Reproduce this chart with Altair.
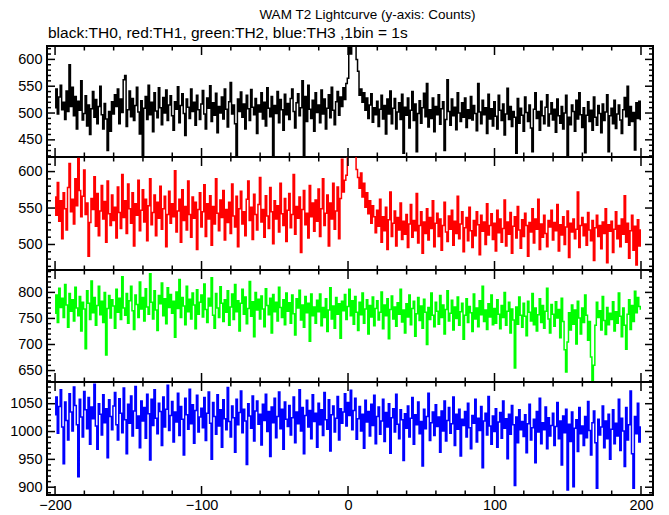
import altair as alt
import pandas as pd

FONT = "Liberation Sans"
X_START = -200
X_DOMAIN = [-205.5, 208.2]
X_LABELS = [-200, -100, 0, 100, 200]

TITLE = "WAM T2 Lightcurve (y-axis: Counts)"
SUBTITLE = "black:TH0, red:TH1, green:TH2, blue:TH3 ,1bin = 1s"

th0 = [
    510, 545, 498, 530, 552, 506, 520, 488, 541, 503, 590, 512, 548, 495, 531, 470, 522, 505, 560, 487,
    499, 532, 476, 515, 460, 508, 540, 492, 525, 480, 512, 550, 497, 470, 518, 489, 430, 503, 466, 521,
    498, 534, 512, 545, 480, 526, 501, 562, 570, 475, 506, 541, 493, 527, 486, 514, 548, 502, 461, 523,
    418, 509, 531, 488, 552, 497, 520, 465, 538, 504, 491, 547, 510, 478, 529, 500, 543, 486, 515, 532,
    495, 468, 521, 507, 549, 482, 514, 536, 499, 458, 526, 511, 490, 545, 503, 520, 477, 533, 506, 488,
    517, 542, 498, 470, 528, 509, 551, 484, 519, 496, 537, 463, 512, 500, 530, 489, 545, 507, 474, 521,
    557, 498, 515, 480, 421, 526, 503, 539, 492, 517, 470, 533, 508, 486, 544, 511, 497, 527, 462, 515,
    502, 538, 489, 520, 476, 547, 509, 493, 531, 421, 514, 499, 540, 482, 525, 506, 468, 535, 497, 518,
    488, 527, 545, 503, 472, 519, 536, 495, 510, 560, 421, 531, 484, 552, 507, 490, 524, 466, 538, 501,
    515, 482, 543, 498, 526, 470, 509, 534, 491, 548, 505, 478, 521, 540, 496, 530, 512, 547, 525, 555,
    565, 640, 610, 650, 660, 645, 600, 578, 533, 545, 520, 538, 505, 528, 490, 515, 536, 483, 510, 497,
    522, 475, 507, 533, 489, 514, 461, 526, 498, 541, 480, 509, 527, 470, 502, 519, 488, 535, 425, 511,
    496, 528, 472, 505, 540, 486, 517, 428, 499, 523, 481, 510, 537, 493, 555, 474, 506, 490, 528, 465,
    512, 497, 534, 479, 508, 521, 430, 488, 562, 503, 477, 526, 495, 511, 469, 538, 500, 484, 519, 492,
    528, 473, 506, 490, 531, 487, 514, 499, 467, 555, 502, 480, 524, 497, 510, 462, 535, 489, 508, 476,
    521, 494, 470, 533, 505, 486, 517, 459, 498, 546, 488, 512, 475, 503, 492, 425, 527, 481, 509, 496,
    466, 530, 501, 484, 515, 472, 428, 507, 538, 490, 503, 468, 522, 495, 480, 511, 534, 476, 498, 519,
    487, 507, 464, 526, 495, 481, 512, 470, 500, 533, 418, 492, 478, 515, 503, 466, 524, 489, 538, 497,
    473, 510, 426, 496, 521, 484, 505, 468, 530, 492, 477, 514, 499, 463, 517, 486, 502, 534, 428, 495,
    509, 480, 524, 471, 498, 515, 487, 462, 506, 529, 493, 550, 477, 512, 484, 501, 431, 519, 490, 522,
    488,
]

th1 = [
    565, 540, 585, 532, 560, 508, 571, 549, 520, 578, 611, 545, 562, 528, 590, 553, 618, 574, 538, 566,
    602, 541, 557, 484, 530, 563, 548, 593, 525, 570, 512, 546, 581, 535, 559, 503, 587, 542, 526, 568,
    533, 551, 509, 579, 544, 522, 596, 537, 560, 515, 583, 549, 529, 571, 498, 556, 540, 588, 519, 547,
    575, 531, 562, 505, 553, 590, 527, 544, 568, 512, 558, 536, 580, 521, 549, 566, 497, 541, 573, 529,
    556, 538, 601, 517, 546, 562, 503, 575, 533, 552, 520, 587, 541, 510, 565, 536, 558, 493, 548, 571,
    524, 545, 582, 511, 556, 535, 567, 499, 552, 528, 590, 543, 519, 561, 537, 574, 506, 548, 530, 558,
    515, 583, 539, 524, 566, 497, 549, 573, 528, 545, 512, 562, 587, 533, 551, 507, 569, 541, 520, 555,
    592, 531, 548, 510, 567, 539, 522, 578, 545, 501, 560, 535, 553, 517, 584, 542, 526, 563, 504, 547,
    570, 523, 541, 596, 514, 552, 536, 565, 489, 548, 574, 527, 543, 509, 581, 538, 557, 518, 561, 532,
    576, 511, 549, 590, 526, 543, 568, 498, 557, 535, 584, 521, 546, 579, 508, 563, 617, 572, 588, 595,
    635, 650, 628, 655, 640, 625, 603, 592, 577, 598, 565, 584, 551, 571, 542, 560, 529, 553, 538, 516,
    547, 525, 562, 503, 538, 519, 551, 493, 534, 572, 511, 529, 546, 498, 537, 520, 557, 507, 532, 514,
    541, 496, 528, 555, 510, 533, 519, 570, 502, 526, 545, 488, 531, 515, 549, 506, 537, 522, 560, 497,
    529, 543, 511, 535, 492, 526, 558, 517, 504, 539, 521, 547, 499, 532, 515, 566, 508, 528, 545, 490,
    523, 537, 505, 551, 519, 496, 533, 512, 545, 527, 486, 540, 518, 531, 500, 556, 513, 526, 542, 507,
    529, 491, 547, 516, 535, 503, 522, 561, 498, 531, 514, 544, 488, 525, 538, 509, 552, 520, 495, 534,
    511, 543, 526, 484, 530, 517, 549, 502, 535, 521, 562, 493, 528, 510, 540, 515, 497, 533, 524, 547,
    506, 530, 519, 555, 491, 527, 513, 538, 500, 524, 546, 482, 529, 517, 535, 508, 521, 572, 496, 526,
    537, 512, 528, 499, 544, 520, 505, 533, 478, 523, 540, 511, 526, 494, 531, 515, 549, 475, 527, 518,
    532, 489, 521, 545, 508, 526, 497, 535, 514, 567, 503, 529, 481, 519, 540, 492, 525, 472, 534, 498,
    520,
]

th2 = [
    760, 795, 742, 808, 771, 789, 752, 815, 776, 733, 798, 764, 786, 745, 810, 770, 755, 792, 726, 781,
    768, 692, 803, 779, 748, 822, 761, 790, 737, 775, 812, 757, 783, 742, 800, 680, 769, 794, 751, 786,
    774, 731, 806, 762, 789, 748, 830, 770, 756, 798, 741, 784, 812, 765, 729, 795, 777, 752, 820, 768,
    790, 745, 807, 772, 758, 836, 781, 749, 803, 766, 727, 794, 778, 818, 755, 788, 740, 809, 771, 796,
    760, 783, 714, 801, 769, 825, 752, 790, 774, 738, 812, 763, 787, 749, 799, 776, 730, 805, 758, 781,
    795, 753, 816, 767, 742, 789, 774, 828, 756, 731, 798, 770, 752, 811, 779, 744, 786, 762, 803, 737,
    772, 797, 748, 815, 763, 784, 726, 779, 806, 758, 791, 740, 769, 821, 754, 782, 715, 800, 766, 787,
    749, 793, 768, 734, 807, 775, 757, 789, 722, 796, 763, 781, 745, 810, 771, 752, 786, 738, 799, 764,
    780, 741, 795, 759, 718, 788, 770, 804, 747, 776, 733, 792, 761, 779, 706, 797, 755, 772, 741, 785,
    763, 797, 736, 771, 752, 788, 725, 766, 809, 749, 774, 731, 790, 758, 778, 712, 783, 765, 796, 748,
    773, 806, 755, 784, 739, 792, 762, 727, 781, 757, 799, 741, 768, 786, 720, 775, 753, 791, 736, 769,
    784, 747, 762, 801, 730, 776, 755, 788, 711, 767, 793, 749, 772, 735, 780, 758, 806, 743, 766, 722,
    778, 753, 795, 738, 769, 783, 716, 759, 790, 746, 774, 731, 787, 762, 700, 771, 748, 799, 756, 734,
    781, 764, 739, 794, 752, 776, 720, 767, 803, 745, 760, 785, 728, 772, 750, 791, 737, 763, 779, 710,
    756, 788, 742, 773, 761, 725, 797, 749, 770, 734, 784, 757, 812, 744, 766, 729, 778, 753, 795, 738,
    769, 741, 786, 758, 730, 775, 752, 800, 737, 764, 781, 722, 768, 747, 655, 772, 739, 791, 756, 733,
    779, 754, 717, 783, 762, 745, 798, 738, 770, 726, 757, 788, 742, 775, 731, 764, 808, 749, 722, 777,
    758, 735, 782, 751, 767, 713, 789, 744, 690, 647, 705, 761, 728, 776, 739, 766, 701, 783, 751, 720,
    770, 742, 795, 756, 708, 744, 676, 631, 660, 737, 781, 752, 765, 728, 792, 746, 719, 771, 738, 760,
    748, 782, 726, 763, 741, 799, 754, 715, 770, 737, 691, 758, 786, 729, 775, 744, 802, 761, 790, 773,
    768,
]

th3 = [
    1030, 1062, 997, 1045, 1075, 1008, 942, 1053, 1020, 985, 1068, 1035, 1001, 1080, 1047, 1012, 919, 1058, 1026, 990,
    1072, 1039, 1005, 1061, 977, 1044, 1023, 1085, 1010, 968, 1050, 1031, 994, 1066, 1016, 1041, 953, 1057, 1027, 1003,
    1046, 1070, 1012, 985, 1059, 1033, 998, 1078, 1021, 960, 1049, 1015, 1064, 992, 1037, 1081, 1006, 1028, 971, 1055,
    1019, 1043, 988, 1067, 1032, 949, 1058, 1011, 1075, 1024, 996, 1051, 1036, 975, 1062, 1008, 1040, 1083, 1002, 1029,
    1054, 981, 1035, 1017, 1069, 993, 1045, 1022, 958, 1060, 1030, 1004, 1076, 1014, 1048, 979, 1038, 1065, 999, 1026,
    1042, 1007, 1061, 984, 1033, 1071, 1015, 950, 1052, 1027, 995, 1066, 1010, 1039, 972, 1057, 1023, 1003, 1079, 1018,
    990, 1046, 1025, 963, 1058, 1012, 1034, 1073, 998, 1040, 1019, 941, 1050, 1028, 1006, 1064, 983, 1037, 1055, 1013,
    1031, 976, 1049, 1020, 1067, 1000, 1036, 955, 1044, 1016, 1060, 989, 1027, 1071, 1005, 1040, 968, 1053, 1022, 1009,
    1047, 994, 1025, 1062, 980, 1035, 1014, 1075, 1001, 1043, 960, 1029, 1056, 1008, 1038, 987, 1066, 1018, 1033, 972,
    1051, 1012, 1039, 993, 1070, 1021, 1004, 1057, 965, 1030, 1046, 999, 1024, 1063, 985, 1041, 1015, 1035, 1068, 1010,
    1052, 1029, 1074, 1003, 1038, 1060, 986, 1023, 1045, 1001, 1031, 970, 1056, 1017, 1036, 992, 1049, 1011, 1065, 978,
    1027, 1044, 995, 1019, 1058, 982, 1034, 1008, 1050, 961, 1025, 1041, 999, 1067, 1013, 987, 1039, 1021, 948, 1032,
    1006, 1046, 990, 1024, 1061, 977, 1030, 1012, 1053, 996, 1018, 938, 1040, 1005, 1027, 1069, 984, 1016, 1035, 993,
    1048, 1009, 1026, 963, 1037, 1001, 1055, 983, 1020, 1043, 997, 1014, 1062, 975, 1031, 1004, 1040, 956, 1022, 1011,
    1036, 990, 1051, 1007, 969, 1029, 1015, 1058, 981, 1024, 1002, 1045, 935, 1019, 1033, 994, 1063, 1010, 977, 1028,
    1000, 1041, 972, 1017, 1034, 988, 1055, 1006, 1023, 951, 1031, 995, 1047, 1012, 903, 1026, 980, 1039, 1003, 1018,
    991, 1030, 962, 1014, 1049, 985, 1007, 1022, 944, 1036, 999, 1060, 978, 1016, 1003, 1044, 969, 1025, 992, 1011,
    1033, 975, 1009, 1052, 987, 1019, 940, 1028, 998, 1040, 895, 1013, 982, 1035, 901, 1006, 1021, 964, 1043, 996,
    1010, 975, 1027, 989, 1054, 1002, 958, 1016, 1037, 980, 898, 1022, 994, 1008, 1046, 971, 1019, 987, 1031, 950,
    1004, 1039, 978, 1015, 992, 1058, 966, 1024, 1001, 937, 1043, 985, 1012, 1073, 960, 898, 1027, 996, 1051, 981,
    1008,
]

W = 606
PANELS = [
    dict(vals=th0, color="#000000", dom=[418, 625], major=[450, 500, 550, 600], h=111),
    dict(vals=th1, color="#ff0000", dom=[465, 620], major=[500, 550, 600], h=113),
    dict(vals=th2, color="#00ff00", dom=[628, 843], major=[650, 700, 750, 800], h=112),
    dict(vals=th3, color="#0000ff", dom=[886, 1089], major=[900, 950, 1000, 1050], h=113),
]

X_MAJOR = [-200, -100, 0, 100, 200]
X_MINOR = [v for v in range(-200, 201, 20) if v not in X_MAJOR]


def panel(p, bottom=False, title=None):
    vals = p["vals"]
    h = p["h"]
    df = pd.DataFrame({"t": list(range(X_START, X_START + len(vals))), "c": vals})
    xs = alt.Scale(domain=X_DOMAIN, nice=False, zero=False)
    ys = alt.Scale(domain=p["dom"], nice=False, zero=False)
    lo, hi = p["dom"]
    y_minor = [v for v in range((lo // 10 + 1) * 10, hi + 1, 10) if v not in p["major"]]

    if bottom:
        xaxis = alt.Axis(values=X_LABELS, grid=False, ticks=False, tickSize=0, domain=False,
                         labelFontSize=14.5, labelFont=FONT, labelColor="black", format="d",
                         labelPadding=3, title=None, labelFlush=False)
    else:
        xaxis = None
    yaxis = alt.Axis(values=p["major"], grid=False, ticks=False, tickSize=0, domain=False,
                     labelFontSize=14.5, labelFont=FONT, labelColor="black", format="d",
                     labelPadding=5, title=None, labelFlush=False)

    line = alt.Chart(df).mark_line(color=p["color"], strokeWidth=1.5, interpolate="step", clip=True).encode(
        x=alt.X("t:Q", scale=xs, axis=xaxis),
        y=alt.Y("c:Q", scale=ys, axis=yaxis),
    )

    def xticks(values, y0, y1):
        return alt.Chart(pd.DataFrame({"v": values})).mark_rule(
            color="black", strokeWidth=1.5, clip=True).encode(
            x=alt.X("v:Q", scale=xs, axis=xaxis), y=alt.value(y0), y2=alt.value(y1))

    def yticks(values, x0, x1):
        return alt.Chart(pd.DataFrame({"v": values})).mark_rule(
            color="black", strokeWidth=1.5, clip=True).encode(
            y=alt.Y("v:Q", scale=ys, axis=yaxis), x=alt.value(x0), x2=alt.value(x1))

    layers = [
        line,
        xticks(X_MAJOR, 0, 9), xticks(X_MINOR, 0, 4.5),
        xticks(X_MAJOR, h, h - 9), xticks(X_MINOR, h, h - 4.5),
        yticks(p["major"], 0, 8), yticks(y_minor, 0, 4),
        yticks(p["major"], W, W - 8), yticks(y_minor, W, W - 4),
    ]
    ch = alt.layer(*layers).properties(width=W, height=h)
    if title:
        ch = ch.properties(title=alt.TitleParams(text=title, anchor="start", frame="group", dx=1,
                                                 fontSize=15.5, font=FONT, fontWeight="normal",
                                                 color="black", offset=5))
    return ch


charts = [panel(p, bottom=(i == 3), title=(SUBTITLE if i == 0 else None)) for i, p in enumerate(PANELS)]

chart = alt.vconcat(*charts, spacing=0, bounds="flush").properties(
    title=alt.TitleParams(text=TITLE, anchor="middle", fontSize=13.5, font=FONT, fontWeight="normal",
                          color="black", offset=3, dx=36),
    padding=0,
    background="white",
).configure_view(stroke="black", strokeWidth=2)

chart.save("out.html", embed_options={"renderer": "svg", "actions": False})
